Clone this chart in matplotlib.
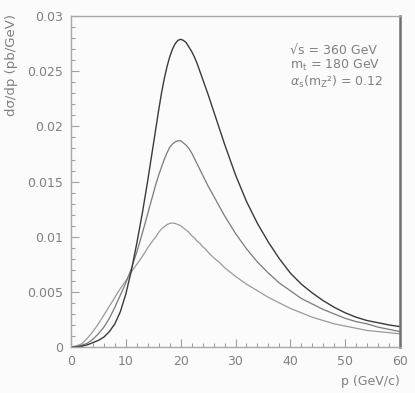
import matplotlib
matplotlib.use("Agg")
import matplotlib.pyplot as plt
from matplotlib.ticker import MultipleLocator, FuncFormatter

# momentum grid (GeV/c), finer around the peaks
p = [0, 1, 2, 3, 4, 5, 6, 7, 8, 9, 10, 11, 12, 13, 14,
     15, 15.5, 16, 16.5, 17, 17.5, 18, 18.5, 19, 19.5, 20, 20.5, 21, 21.5,
     22, 22.5, 23, 23.5, 24, 24.5, 25,
     26, 27, 28, 29, 30, 32, 34, 36, 38, 40, 42, 44, 46, 48, 50, 52, 54, 56,
     58, 60]

# dsigma/dp (pb/GeV), three curves
sig_top = [0, 0.00002, 0.00008, 0.0002, 0.0004, 0.0006, 0.0009, 0.0014, 0.0021,
           0.0032, 0.0048, 0.0069, 0.0094, 0.0121, 0.0151,
           0.0183, 0.0199, 0.0215, 0.0230, 0.0243, 0.0254, 0.0263, 0.0270, 0.0275,
           0.0278, 0.0279, 0.0278, 0.0276, 0.0272,
           0.0268, 0.0263, 0.0257, 0.0250, 0.0243, 0.0236, 0.0229,
           0.0214, 0.0199, 0.0184, 0.0170, 0.0156, 0.0132, 0.0112, 0.0095, 0.0080,
           0.0067, 0.0057, 0.0049, 0.0042, 0.0036, 0.0031, 0.0027, 0.0024, 0.0022,
           0.0020, 0.00185]
sig_mid = [0, 0.00004, 0.00015, 0.00035, 0.0007, 0.0012, 0.0018, 0.0026, 0.0036,
           0.0047, 0.0058, 0.0071, 0.0086, 0.0103, 0.0121,
           0.0139, 0.0148, 0.0156, 0.0163, 0.0170, 0.0176, 0.0181, 0.0184, 0.0186,
           0.0187, 0.0187, 0.0185, 0.0183, 0.0180,
           0.0176, 0.0171, 0.0166, 0.0161, 0.0156, 0.0151, 0.0146,
           0.0137, 0.0128, 0.0119, 0.0111, 0.0103, 0.0089, 0.0077, 0.0067, 0.0058,
           0.0051, 0.0044, 0.0039, 0.0034, 0.0030, 0.0026, 0.0023, 0.0021, 0.0018,
           0.0016, 0.0014]
sig_low = [0, 0.0001, 0.0003, 0.0008, 0.0014, 0.0021, 0.0029, 0.0037, 0.0045,
           0.0053, 0.0060, 0.0068, 0.0075, 0.0082, 0.0090,
           0.0097, 0.0100, 0.0104, 0.0107, 0.0109, 0.0111, 0.0112, 0.01125, 0.0112,
           0.0111, 0.0110, 0.0108, 0.0106, 0.0104,
           0.0101, 0.0099, 0.0096, 0.0094, 0.0091, 0.0089, 0.0086,
           0.0081, 0.0077, 0.0072, 0.0068, 0.0064, 0.0057, 0.0051, 0.0045, 0.0040,
           0.0035, 0.0031, 0.0027, 0.0024, 0.0021, 0.0019, 0.0017, 0.0015, 0.0014,
           0.0013, 0.0012]

info_lines = [u"\u221as = 360 GeV",
              r"m$_{\rm t}$ = 180 GeV",
              u"$\\alpha_{\\rm s}$(m$_{\\rm Z}$\u00b2) = 0.12"]

grey = "#808080"
bg = "#fbfbfb"

fig = plt.figure(figsize=(4.15, 3.93), dpi=100, facecolor=bg)
ax = fig.add_axes([0.171, 0.117, 0.793, 0.842], facecolor=bg)

ax.plot(p, sig_low, color="#9a9a9a", lw=0.9)
ax.plot(p, sig_mid, color="#7a7a7a", lw=0.9)
ax.plot(p, sig_top, color="#3a3a3a", lw=1.0)

ax.set_xlim(0, 60)
ax.set_ylim(0, 0.03)
ax.xaxis.set_major_locator(MultipleLocator(10))
ax.xaxis.set_minor_locator(MultipleLocator(2))
ax.yaxis.set_major_locator(MultipleLocator(0.005))
ax.yaxis.set_minor_locator(MultipleLocator(0.001))
ax.yaxis.set_major_formatter(FuncFormatter(lambda v, pos: "%g" % round(v, 4)))

ax.tick_params(which="both", direction="in", colors="#a0a0a0", labelcolor=grey,
               labelsize=9, top=False, right=False)
ax.tick_params(which="major", length=6, width=0.8, pad=6)
ax.tick_params(which="minor", length=3, width=0.8)

for s in ["left", "bottom", "top"]:
    ax.spines[s].set_color("#a8a8a8")
    ax.spines[s].set_linewidth(1.0)
ax.spines["right"].set_color("#707070")
ax.spines["right"].set_linewidth(1.8)

# one block of text for the run parameters
ax.text(40, 0.0275, "\n".join(info_lines), color=grey, fontsize=9,
        va="top", ha="left", linespacing=1.1)

fig.text(12 / 415, 1 - 14 / 393, u"d\u03c3/dp (pb/GeV)", rotation=90, color=grey,
         fontsize=9.5, ha="center", va="top")
fig.text(400 / 415, 1 - 381 / 393, "p (GeV/c)", color=grey, fontsize=9,
         ha="right", va="center")

fig.savefig("out.png", dpi=100, facecolor=bg)
